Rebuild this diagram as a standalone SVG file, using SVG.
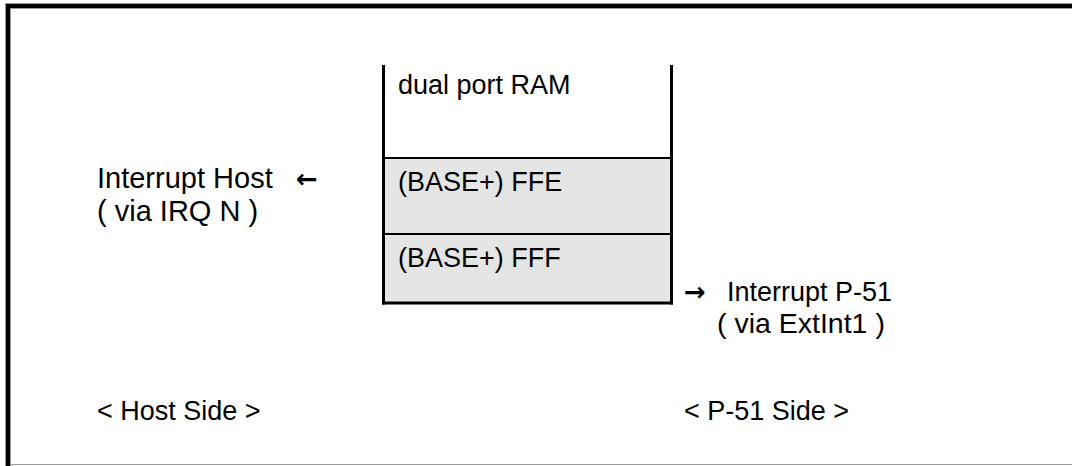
<svg xmlns="http://www.w3.org/2000/svg" width="1072" height="466" viewBox="0 0 1072 466">
<style>
.t{font-family:"Liberation Sans",Arial,sans-serif;font-size:27px;fill:#000}
.b{font-size:29px}
.m{font-size:28.5px}
.a{font-family:"DejaVu Sans",sans-serif;font-size:26px;font-weight:bold;fill:#000}
.thick{stroke:#000;stroke-width:4;fill:none}
.edge{stroke:#999;stroke-width:1;fill:none}
.wall{stroke:#000;stroke-width:3;fill:none}
.div{stroke:#000;stroke-width:2;fill:none}
</style>
<rect width="1072" height="466" fill="#fff"/>
<g id="frame">
<line class="edge" x1="5.5" y1="3.5" x2="1072" y2="3.5"/>
<line class="edge" x1="10" y1="8.5" x2="1072" y2="8.5"/>
<line class="edge" x1="5.5" y1="3.5" x2="5.5" y2="466"/>
<line class="edge" x1="10.5" y1="8.5" x2="10.5" y2="466"/>
<line class="thick" x1="6" y1="6" x2="1072" y2="6"/>
<line class="thick" x1="8" y1="4" x2="8" y2="466"/>
<line class="edge" x1="10" y1="464.5" x2="1072" y2="464.5"/>
</g>
<g id="ram">
<rect x="385" y="158" width="285" height="145" fill="#e5e5e5"/>
<line class="div" x1="385" y1="158" x2="670" y2="158"/>
<line class="div" x1="385" y1="234" x2="670" y2="234"/>
<line class="wall" x1="383.5" y1="65" x2="383.5" y2="304.5"/>
<line class="wall" x1="671.5" y1="65" x2="671.5" y2="304.5"/>
<line class="wall" x1="382" y1="303" x2="673" y2="303"/>
<text class="t" x="398" y="94">dual port RAM</text>
<text class="t" x="398" y="191">(BASE+) FFE</text>
<text class="t" x="398" y="267">(BASE+) FFF</text>
</g>
<g id="host">
<text class="t b" x="97" y="188">Interrupt Host</text>
<text class="a" x="296" y="188">←</text>
<text class="t b" x="97" y="221">( via IRQ N )</text>
<text class="t" x="97" y="420">&lt; Host Side &gt;</text>
</g>
<g id="p51">
<text class="a" x="684" y="301">→</text>
<text class="t" x="727" y="301">Interrupt P-51</text>
<text class="t m" x="717" y="333">( via ExtInt1 )</text>
<text class="t" x="684" y="420">&lt; P-51 Side &gt;</text>
</g>
<g id="connectors"></g>
</svg>
